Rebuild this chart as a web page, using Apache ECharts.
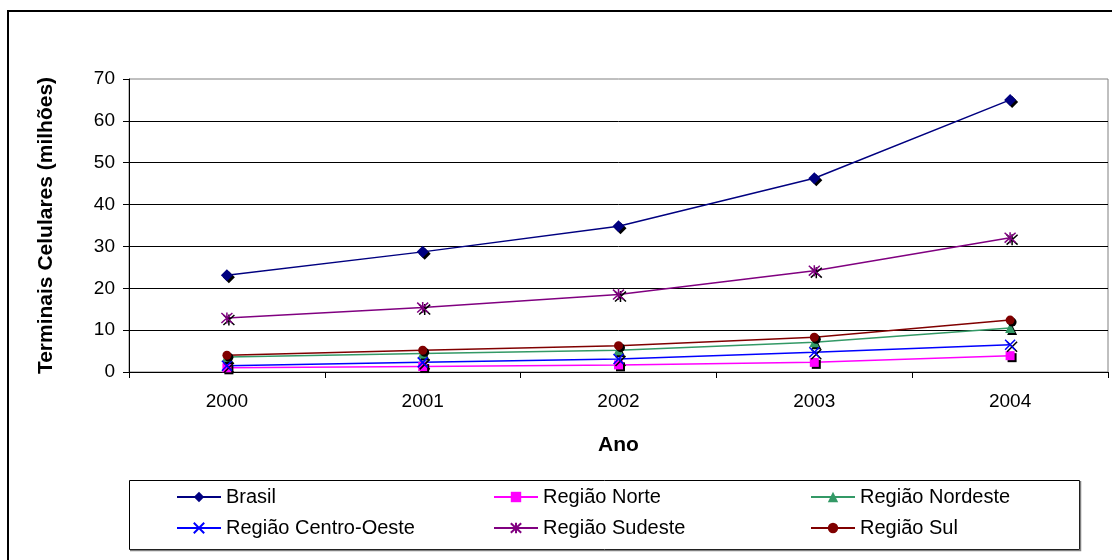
<!DOCTYPE html>
<html>
<head>
<meta charset="utf-8">
<title>Terminais Celulares</title>
<script src="https://cdn.jsdelivr.net/npm/echarts@6/dist/echarts.min.js"></script>
<style>
  html, body { margin: 0; padding: 0; background: #fff; }
  #chart { width: 1112px; height: 560px; }
</style>
</head>
<body>
<div id="chart"></div>
<script>
// Terminais celulares em operação por região (milhões)
const anos = ['2000', '2001', '2002', '2003', '2004'];
const brasil       = [23.1, 28.7, 34.8, 46.3, 65.0];
const norte        = [1.0, 1.3, 1.7, 2.3, 3.9];
const nordeste     = [3.6, 4.4, 5.2, 7.1, 10.5];
const centroOeste  = [1.5, 2.3, 3.1, 4.7, 6.5];
const sudeste      = [12.9, 15.4, 18.5, 24.2, 32.1];
const sul          = [4.0, 5.2, 6.3, 8.3, 12.4];
const yTicks = { min: 0, max: 70, interval: 10 };

const FONT = '"Liberation Sans", Arial, sans-serif';
const CROSS = 'path://M0,0L10,10M10,0L0,10';
const STAR = 'path://M5,0L5,10M0.5,0.5L9.5,9.5M9.5,0.5L0.5,9.5';

function serie(name, data, color, symbol, size, stroked) {
  const itemStyle = {
    color: color,
    shadowColor: '#000',
    shadowBlur: 0,
    shadowOffsetX: 2,
    shadowOffsetY: 2
  };
  if (stroked) {
    itemStyle.borderColor = color;
    itemStyle.borderWidth = 1.5;
  }
  return {
    name: name,
    type: 'line',
    data: data,
    color: color,
    symbol: symbol,
    symbolSize: size,
    showAllSymbol: true,
    lineStyle: { color: color, width: 1.5 },
    itemStyle: itemStyle,
    emphasis: { disabled: true },
    animation: false
  };
}

// Legend laid out as a 3x2 table: one legend component per entry
const legendCols = [171, 488, 805];
const legendRows = [482, 513];
const legendNames = [
  ['Brasil', 'Região Norte', 'Região Nordeste'],
  ['Região Centro-Oeste', 'Região Sudeste', 'Região Sul']
];
const legends = [];
legendNames.forEach(function (row, r) {
  row.forEach(function (name, c) {
    legends.push({
      orient: 'horizontal',
      left: legendCols[c],
      top: legendRows[r],
      itemWidth: 44,
      itemHeight: 13,
      selectedMode: false,
      data: [name],
      textStyle: { fontFamily: FONT, fontSize: 20, color: '#000' }
    });
  });
});

const chart = echarts.init(document.getElementById('chart'), null, { renderer: 'canvas' });

chart.setOption({
  backgroundColor: '#fff',
  animation: false,
  textStyle: { fontFamily: FONT },
  grid: {
    left: 129, right: 4, top: 79, bottom: 188,
    show: true, borderColor: '#808080', borderWidth: 1, backgroundColor: 'transparent'
  },
  xAxis: {
    type: 'category',
    data: anos,
    boundaryGap: true,
    name: 'Ano',
    nameLocation: 'middle',
    nameGap: 63,
    nameTextStyle: { fontFamily: FONT, fontSize: 21, fontWeight: 'bold', color: '#000' },
    axisLine: { lineStyle: { color: '#000', width: 1 } },
    axisTick: { show: true, length: 6, lineStyle: { color: '#000' } },
    axisLabel: { fontFamily: FONT, fontSize: 19, color: '#000', margin: 20 },
    splitLine: { show: false }
  },
  yAxis: {
    type: 'value',
    min: yTicks.min,
    max: yTicks.max,
    interval: yTicks.interval,
    name: 'Terminais Celulares (milhões)',
    nameLocation: 'middle',
    nameGap: 72,
    nameTextStyle: { fontFamily: FONT, fontSize: 21, fontWeight: 'bold', color: '#000' },
    axisLine: { show: true, lineStyle: { color: '#000', width: 1 } },
    axisTick: { show: true, length: 6, lineStyle: { color: '#000' } },
    axisLabel: { fontFamily: FONT, fontSize: 19, color: '#000', margin: 14 },
    splitLine: { show: true, showMaxLine: false, lineStyle: { color: '#000', width: 1 } }
  },
  legend: legends,
  graphic: [
    { type: 'rect', silent: true, z: -1,
      shape: { x: 8, y: 11, width: 1200, height: 600 },
      style: { fill: 'none', stroke: '#000', lineWidth: 2 } },
    { type: 'rect', silent: true,
      shape: { x: 129.5, y: 480.5, width: 950, height: 69 },
      style: { fill: 'none', stroke: '#000', lineWidth: 1 } },
    { type: 'polyline', silent: true,
      shape: { points: [[1080.5, 481], [1080.5, 550.5], [130, 550.5]] },
      style: { fill: 'none', stroke: '#808080', lineWidth: 1.5 } }
  ],
  series: [
    serie('Brasil', brasil, '#000080', 'diamond', 12, false),
    serie('Região Norte', norte, '#FF00FF', 'rect', 9, false),
    serie('Região Nordeste', nordeste, '#339966', 'triangle', 10, false),
    serie('Região Centro-Oeste', centroOeste, '#0000FF', CROSS, 10, true),
    serie('Região Sudeste', sudeste, '#800080', STAR, 11, true),
    serie('Região Sul', sul, '#800000', 'circle', 9, false)
  ]
});
</script>
</body>
</html>
